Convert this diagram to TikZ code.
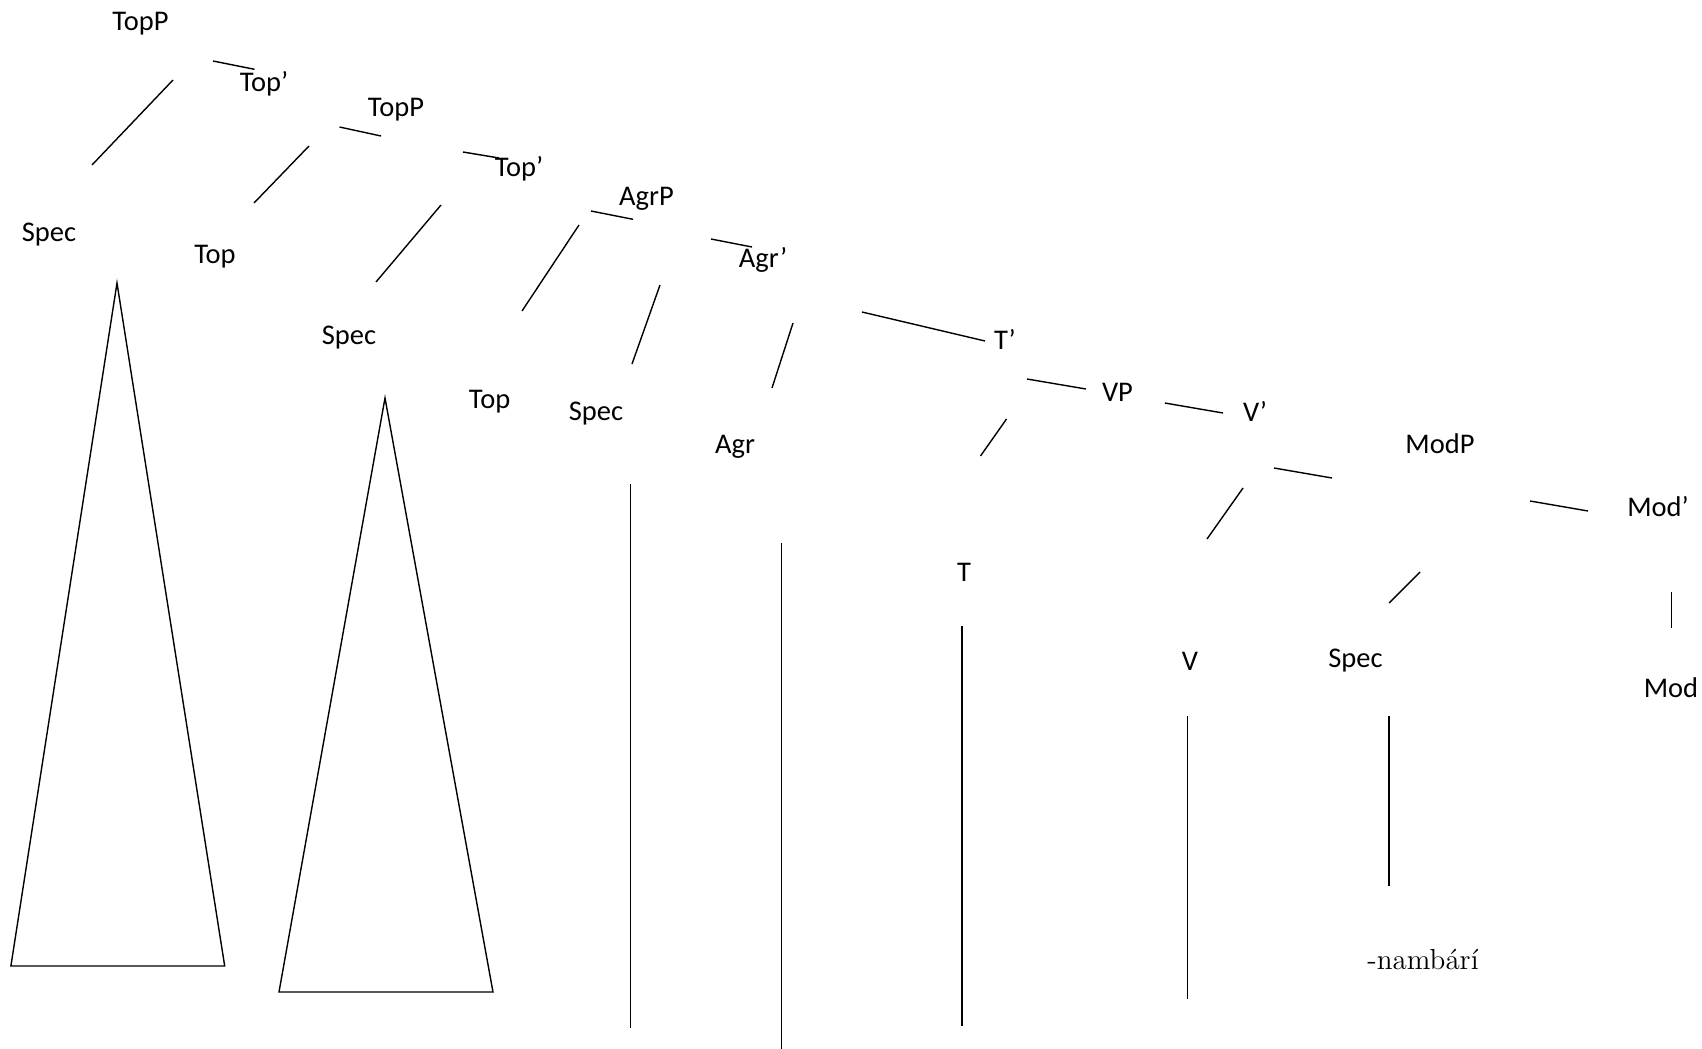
\documentclass[tikz,border=0pt]{standalone}
\usepackage{fontspec}
\usepackage{tikz}
\newfontfamily\catfont{Carlito}

\begin{document}
\begin{tikzpicture}[x=0.5pt,y=-0.5pt,line width=0.7pt,
  cat/.style={anchor=base,inner sep=0pt,font=\catfont\fontsize{14.25}{17}\selectfont},
  word/.style={anchor=base,inner sep=0pt,font=\fontsize{14.5}{17}\selectfont}]
  \useasboundingbox (0,0) rectangle (1702,1049);
  % category labels
  \foreach \n/\x/\y/\t in {topp1/140.5/31/TopP, topbar1/264/91/Top’, spec1/49/241/Spec, top1/215/263/Top,
    topp2/396/116/TopP, topbar2/519/176/Top’, spec2/349/344/Spec, top2/489.6/408/Top,
    agrp/646.5/205/AgrP, agrbar/763/267/Agr’, spec3/596/420/Spec, agr/735/453/Agr,
    tbar/1005/349/T’, t/964/581/T, vp/1117.5/401/VP, vbar/1255/421/V’, v/1190/670/V,
    modp/1440/453/ModP, modbar/1658/516/Mod’, spec4/1355.5/667/Spec, mod/1671/697/Mod}
    {\node[cat] (\n) at (\x,\y) {\t};}
  \node[word] (nambari) at (1423,969) {-nambárí};
  % branches
  \foreach \xa/\ya/\xb/\yb in {213/61/254.5/69.3, 173/80/92/165, 339.5/127/381/136, 309/146/254/203,
    463/152/499/158, 441/205/376/282, 591/211/633/219.3, 579/225/522/311, 711/239/752/247,
    660/285/632/364, 793/323/772/388, 862/312/985/341, 1027/379/1086/389, 1006.5/419/980.5/456,
    1164.8/403/1223/413, 1274/468/1332/478, 1243/488/1207/539, 1530/501/1588/511,
    1420/572/1389/603, 1671.6/592/1671.6/628}
    {\draw (\xa,\ya) -- (\xb,\yb);}
  % vertical lines
  \foreach \x/\ya/\yb in {630.7/484/1028, 781.6/543/1049, 961.8/626/1026, 1187.5/716/998.6, 1389/716/886}
    {\draw (\x,\ya) -- (\x,\yb);}
  % triangles
  \draw (117,283) -- (224.7,966) -- (10.9,966) -- cycle;
  \draw (385,398) -- (493,992) -- (279,992) -- cycle;
\end{tikzpicture}
\end{document}
